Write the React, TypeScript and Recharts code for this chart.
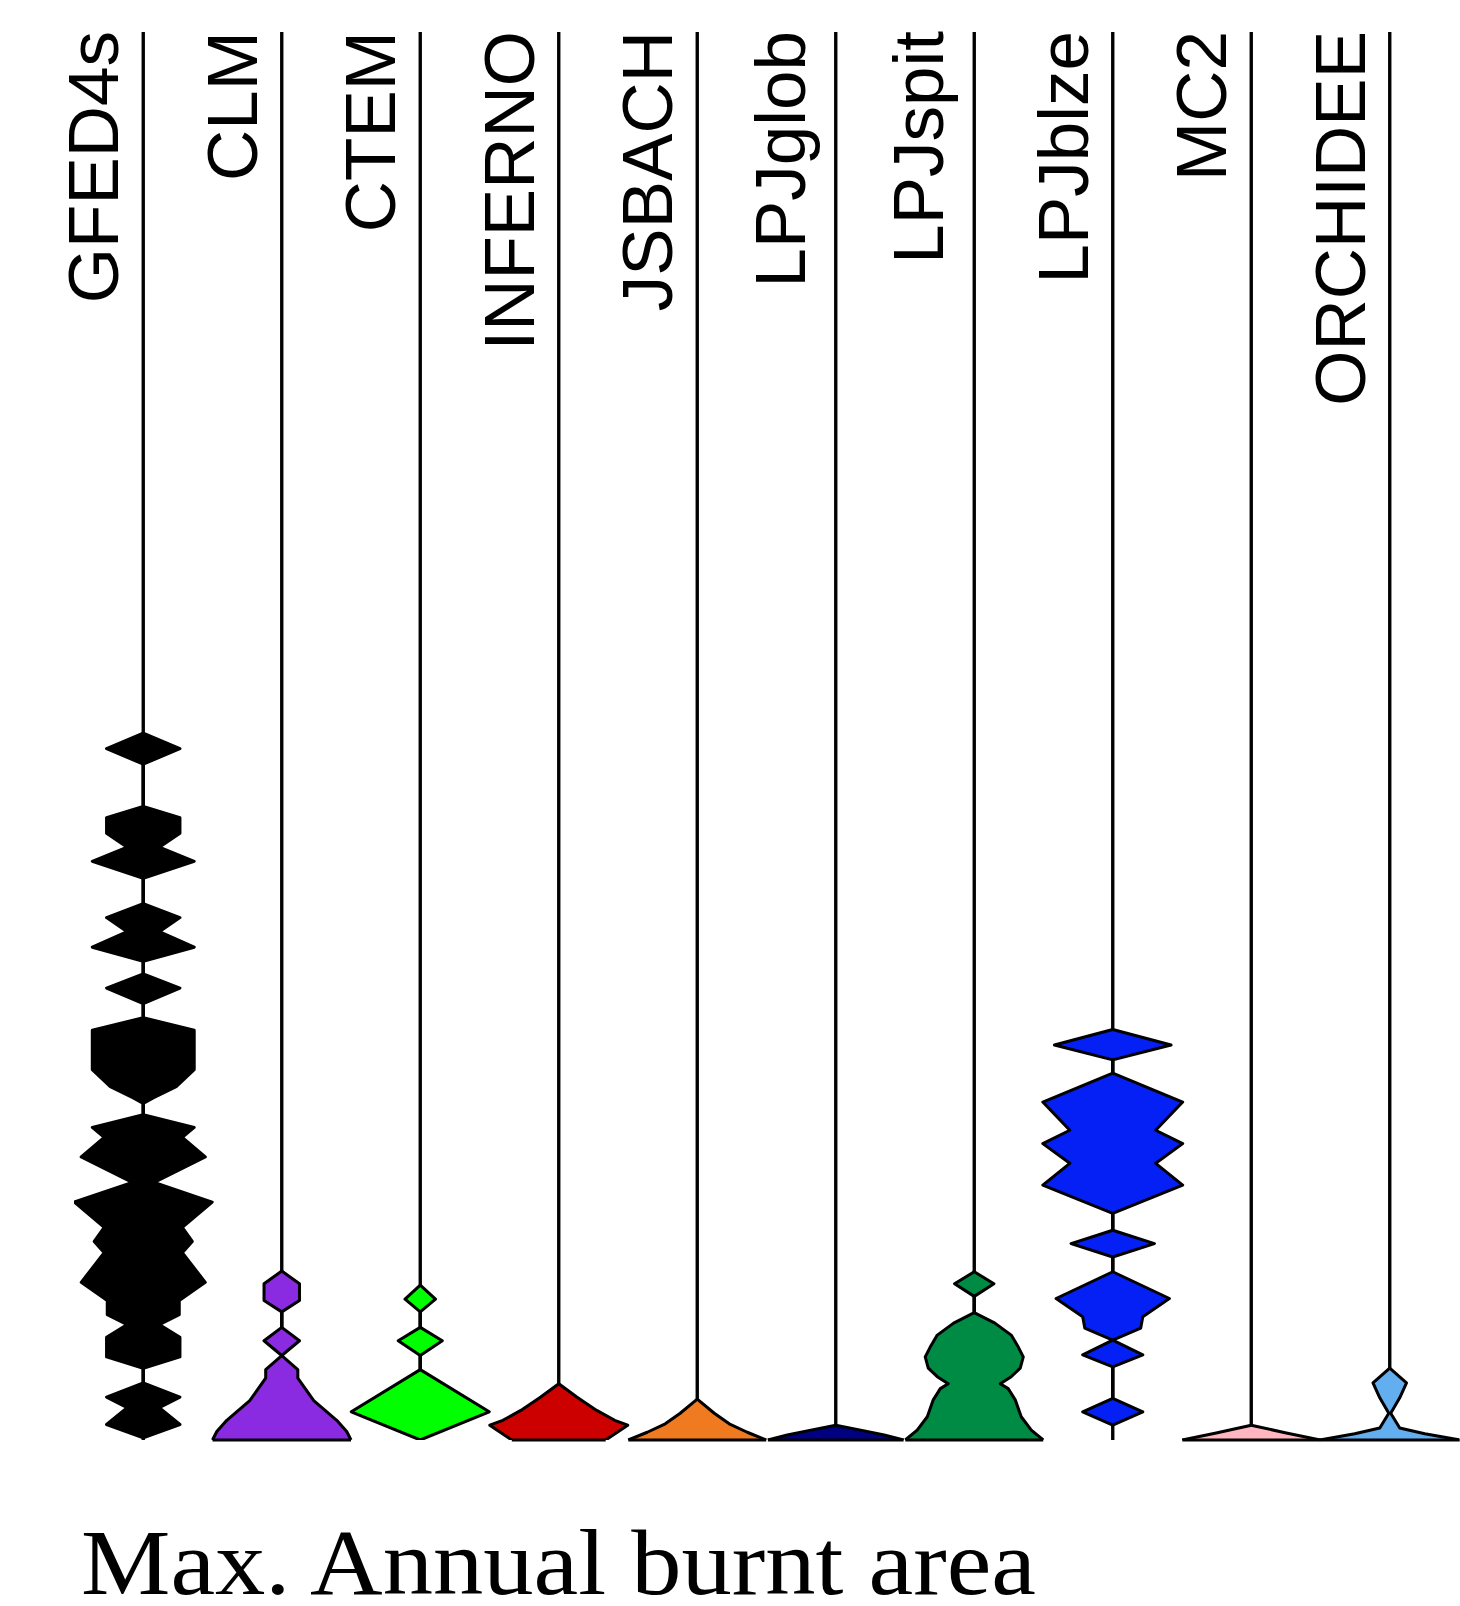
import React from 'react';
import { ComposedChart, Area, XAxis, YAxis, ReferenceLine } from 'recharts';

const MODELS = ['GFED4s', 'CLM', 'CTEM', 'INFERNO', 'JSBACH', 'LPJglob', 'LPJspit', 'LPJblze', 'MC2', 'ORCHIDEE'];
const COLORS = ['#000000', '#8A2BE2', '#00FF00', '#CD0000', '#F07A1F', '#000080', '#008B45', '#0520F5', '#FFB6C1', '#63AEEE'];

// bean outlines, top to bottom: [level on the 0-100 axis, half width in column units]
const GFED4S_BEAN = [
  [50.2, 0], [49.1, 0.265], [48.0, 0],
  [45.0, 0], [44.2, 0.265], [43.1, 0.265], [42.1, 0.116],
  [41.1, 0.368], [39.9, 0],
  [38.1, 0], [37.1, 0.265], [36.1, 0.116],
  [35.0, 0.368], [34.0, 0],
  [33.1, 0], [32.1, 0.265], [31.0, 0],
  [30.0, 0], [29.1, 0.368], [26.3, 0.368], [25.1, 0.238], [24.3, 0.072], [23.9, 0],
  [23.1, 0], [22.2, 0.368], [21.5, 0.282], [20.1, 0.448], [18.3, 0.079],
  [16.9, 0.498], [15.1, 0.282], [14.1, 0.354], [13.3, 0.282], [11.2, 0.448], [9.9, 0.26], [8.9, 0.26], [8.2, 0.116],
  [7.3, 0.265], [5.9, 0.265], [5.1, 0],
  [4.05, 0], [3.05, 0.265], [2.3, 0.116],
  [1.1, 0.265], [0.15, 0],
];
const CLM_BEAN = [
  [12.0, 0], [11.1, 0.128], [9.9, 0.128], [9.1, 0],
  [8.0, 0], [7.05, 0.128], [6.0, 0],
  [5.0, 0.116], [4.4, 0.116], [2.8, 0.231], [1.4, 0.397], [0.6, 0.469], [0, 0.5],
];
const CTEM_BEAN = [
  [11.0, 0], [10.0, 0.11], [9.1, 0],
  [8.0, 0], [7.05, 0.159], [6.0, 0],
  [5.0, 0], [2.0, 0.498], [0, 0],
];
const INFERNO_BEAN = [[4.0, 0], [3.05, 0.13], [2.1, 0.274], [1.4, 0.404], [1.05, 0.498], [0, 0.339]];
const JSBACH_BEAN = [[2.9, 0], [1.9, 0.123], [1.15, 0.231], [0.55, 0.361], [0, 0.498]];
const LPJGLOB_BEAN = [[1.05, 0], [0.7, 0.18], [0.35, 0.35], [0, 0.49]];
const LPJSPIT_BEAN = [
  [11.95, 0], [11.1, 0.142], [10.2, 0],
  [9.05, 0], [8.3, 0.149], [7.45, 0.267], [6.6, 0.318], [5.9, 0.354], [5.1, 0.332], [4.5, 0.267],
  [4.0, 0.188], [3.65, 0.245], [2.85, 0.296], [1.65, 0.339], [0.7, 0.412], [0, 0.498],
];
const LPJBLZE_BEAN = [
  [29.15, 0], [28.05, 0.421], [27.0, 0],
  [26.05, 0], [24.0, 0.505], [22.0, 0.31], [21.05, 0.505], [19.65, 0.31], [18.1, 0.505], [16.1, 0],
  [14.9, 0], [13.95, 0.301], [13.0, 0],
  [11.95, 0], [10.05, 0.409], [8.75, 0.217], [7.95, 0.202], [7.1, 0],
  [6.05, 0.217], [5.2, 0],
  [2.95, 0], [2.0, 0.217], [1.05, 0],
];
const MC2_BEAN = [[1.05, 0], [0.5, 0.253], [0, 0.498]];
const ORCHIDEE_BEAN = [[5.1, 0], [4.05, 0.121], [3.0, 0.072], [1.9, 0.007], [0.85, 0.072], [0.45, 0.253], [0, 0.505]];

const BEANS = [
  GFED4S_BEAN, CLM_BEAN, CTEM_BEAN, INFERNO_BEAN, JSBACH_BEAN,
  LPJGLOB_BEAN, LPJSPIT_BEAN, LPJBLZE_BEAN, MC2_BEAN, ORCHIDEE_BEAN,
];

const Y_DOMAIN: [number, number] = [0, 100];
const STROKE = 3;

const ModelTick = (props: any) => {
  const { x, payload } = props;
  const name = MODELS[payload.value];
  if (!name) return null;
  // names with descenders sit a little further from their stem
  const tx = x - (/[gpqy]/.test(name) ? 31 : 25);
  const ty = 31;
  return (
    <text
      x={tx}
      y={ty}
      transform={`rotate(-90 ${tx} ${ty})`}
      textAnchor="end"
      fontFamily="'Liberation Sans', Arial, sans-serif"
      fontSize={71}
      fill="#000"
    >
      {name}
    </text>
  );
};

export default function App() {
  return (
    <div style={{ position: 'absolute', left: 0, top: 0, width: 1460, height: 1606, background: '#fff' }}>
      <ComposedChart
        width={1460}
        height={1606}
        layout="vertical"
        margin={{ top: 31, right: 1, bottom: 166, left: 74 }}
      >
        <XAxis
          type="number"
          orientation="top"
          domain={[-0.5, 9.5]}
          allowDataOverflow
          ticks={MODELS.map((_, i) => i)}
          interval={0}
          tick={ModelTick}
          axisLine={false}
          tickLine={false}
          height={1}
        />
        <YAxis type="number" dataKey="y" domain={Y_DOMAIN} allowDataOverflow reversed hide />

        {/* stems */}
        {MODELS.map((m, i) => (
          <Area
            key={`stem-${m}`}
            data={[{ y: Y_DOMAIN[1], x: [i, i] }, { y: Y_DOMAIN[0], x: [i, i] }]}
            dataKey="x"
            type="linear"
            stroke="#000"
            strokeWidth={STROKE}
            fill="none"
            dot={false}
            activeDot={false}
            isAnimationActive={false}
          />
        ))}

        {/* beans */}
        {BEANS.map((bean, i) => (
          <Area
            key={`bean-${MODELS[i]}`}
            data={bean.map(([y, w]) => ({ y, x: [i - w, i + w] }))}
            dataKey="x"
            type="linear"
            stroke="#000"
            strokeWidth={STROKE}
            strokeLinejoin="round"
            fill={COLORS[i]}
            fillOpacity={1}
            dot={false}
            activeDot={false}
            isAnimationActive={false}
          />
        ))}

        {/* flat base where a bean is cut by the axis */}
        {BEANS.map((bean, i) => {
          const [y0, w0] = bean[bean.length - 1];
          if (y0 !== 0 || w0 === 0) return null;
          return (
            <ReferenceLine
              key={`base-${MODELS[i]}`}
              segment={[{ x: i - w0, y: 0 }, { x: i + w0, y: 0 }]}
              stroke="#000"
              strokeWidth={STROKE}
              ifOverflow="visible"
            />
          );
        })}
      </ComposedChart>
      <svg width={1460} height={1606} style={{ position: 'absolute', left: 0, top: 0, pointerEvents: 'none' }}>
        <text
          x={81}
          y={1594}
          fontFamily="'Liberation Serif', 'Times New Roman', serif"
          fontSize={94}
          textLength={955}
          lengthAdjust="spacingAndGlyphs"
          fill="#000"
        >
          Max. Annual burnt area
        </text>
      </svg>
    </div>
  );
}
